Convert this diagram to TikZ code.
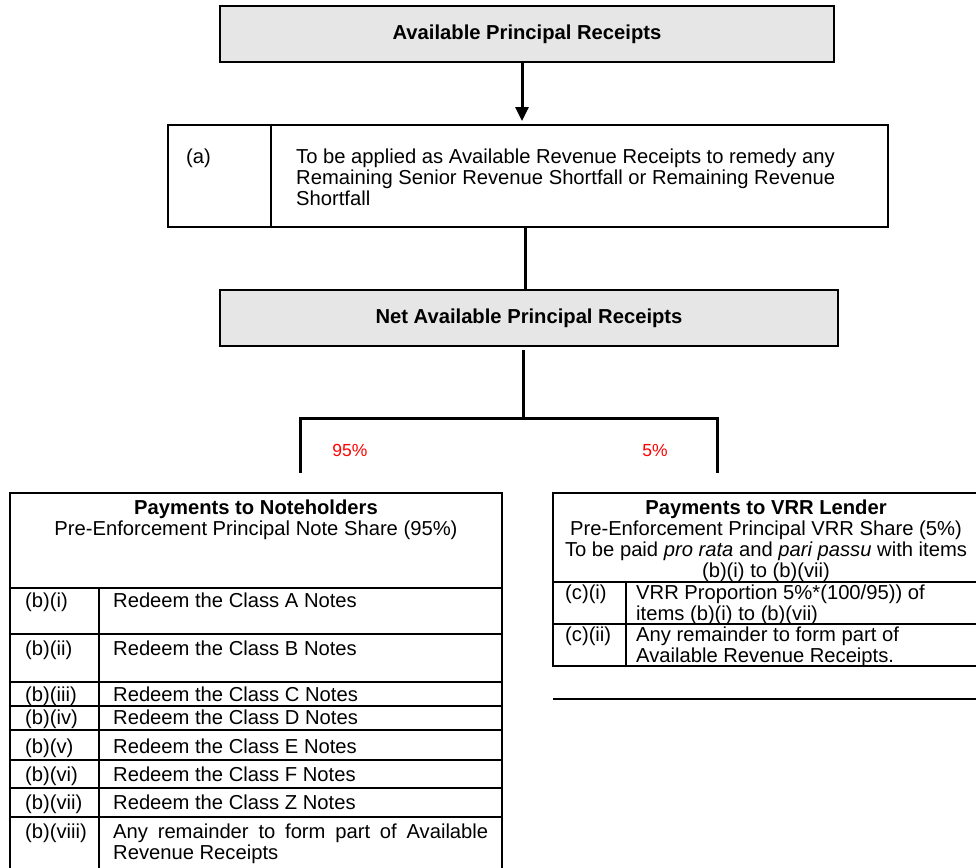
\documentclass[tikz,border=0pt]{standalone}
\usepackage{fontspec}
\setmainfont{Liberation Sans}
\usetikzlibrary{arrows.meta}
\definecolor{boxgray}{HTML}{E7E6E6}
\newcommand{\bodyfont}{\fontsize{20.2}{22}\selectfont}
\begin{document}
\begin{tikzpicture}[x=1pt,y=-1pt,
  txt/.style={inner sep=0pt, anchor=base west, font=\bodyfont},
  ctxt/.style={inner sep=0pt, anchor=base, font=\bodyfont},
  btxt/.style={inner sep=0pt, anchor=base, font=\bodyfont\bfseries},
  graybox/.style={draw, line width=2pt, fill=boxgray, inner sep=0pt, font=\bodyfont\bfseries},
  plainbox/.style={draw, line width=2pt, inner sep=0pt},
  wire/.style={line width=3pt},
  rule/.style={line width=1.8pt},
  pct/.style={text=red, inner sep=0pt, anchor=base, font=\fontsize{17.5}{20}\selectfont}]
\useasboundingbox (0,0) rectangle (976,867);
\fill[white] (0,0) rectangle (976,867);

% top box
\node[graybox, minimum width=614pt, minimum height=56pt] (apr) at (527,34) {Available Principal Receipts};
% (a) box
\node[plainbox, minimum width=720pt, minimum height=102pt] (abox) at (528,176) {};
\draw[rule] ([xshift=104pt]abox.north west) -- ([xshift=104pt]abox.south west);
\node[txt] (ta) at (186,163) {(a)};
\node[txt] (ta1) at (296,163) {To be applied as Available Revenue Receipts to remedy any};
\node[txt] (ta2) at (296,184) {Remaining Senior Revenue Shortfall or Remaining Revenue};
\node[txt] (ta3) at (296,205) {Shortfall};
% net box
\node[graybox, line width=1.6pt, minimum width=618pt, minimum height=56pt] (nap) at (529,318) {Net Available Principal Receipts};

% connectors
\coordinate (j1) at (522,0);
\coordinate (j2) at (525,0);
\coordinate (j3) at (523,0);
\coordinate (bl) at (300,418);
\coordinate (br) at (717,418);
\coordinate (dl) at (300,473);
\coordinate (dr) at (717,473);
\draw[wire, -{Triangle[length=14pt,width=13pt]}] (apr.south -| j1) -- ([yshift=3pt]abox.north -| j1);
\draw[wire] (abox.south -| j2) -- (nap.north -| j2);
\draw[wire] ([yshift=-3pt]nap.south -| j3) -- (j3 |- bl);
\draw[wire] (dl) -- (bl) -- (br) -- (dr);
\node[pct] (p95) at (350,456) {95\%};
\node[pct] (p5) at (655,456) {5\%};

% left table
\draw[rule] (10,875) -- (10,493) -- (502,493) -- (502,875);
\foreach \yy in {588,634,682,706,730,760,788,817}
  \draw[rule] (10,\yy) -- (502,\yy);
\draw[rule] (99,588) -- (99,875);
\node[btxt] (lh1) at (256,514) {Payments to Noteholders};
\node[ctxt] (lh2) at (256,535) {Pre-Enforcement Principal Note Share (95\%)};
\node[txt] (b1l) at (25,607) {(b)(i)};
\node[txt] (b1t) at (113,607) {Redeem the Class A Notes};
\node[txt] (b2l) at (25,655) {(b)(ii)};
\node[txt] (b2t) at (113,655) {Redeem the Class B Notes};
\node[txt] (b3l) at (25,701) {(b)(iii)};
\node[txt] (b3t) at (113,701) {Redeem the Class C Notes};
\node[txt] (b4l) at (25,724) {(b)(iv)};
\node[txt] (b4t) at (113,724) {Redeem the Class D Notes};
\node[txt] (b5l) at (25,753) {(b)(v)};
\node[txt] (b5t) at (113,753) {Redeem the Class E Notes};
\node[txt] (b6l) at (25,781) {(b)(vi)};
\node[txt] (b6t) at (113,781) {Redeem the Class F Notes};
\node[txt] (b7l) at (25,809) {(b)(vii)};
\node[txt] (b7t) at (113,809) {Redeem the Class Z Notes};
\node[txt] (b8l) at (25,838) {(b)(viii)};
\node[txt] (b8t) at (113,838) {\makebox[375pt][s]{Any remainder to form part of Available}};
\node[txt] (b8t2) at (113,859) {Revenue Receipts};

% right table
\draw[rule] (982,493) -- (553,493) -- (553,666) -- (982,666);
\draw[rule] (553,582) -- (982,582);
\draw[rule] (553,624) -- (982,624);
\draw[rule] (626,582) -- (626,666);
\draw[line width=1.4pt] (553,699) -- (982,699);
\node[btxt] (rh1) at (766,514) {Payments to VRR Lender};
\node[ctxt] (rh2) at (766,535) {Pre-Enforcement Principal VRR Share (5\%)};
\node[ctxt] (rh3) at (766,556) {To be paid \textit{pro rata} and \textit{pari passu} with items};
\node[ctxt] (rh4) at (766,577) {(b)(i) to (b)(vii)};
\node[txt] (c1l) at (565,599) {(c)(i)};
\node[txt] (c1t) at (636,599) {VRR Proportion 5\%*(100/95)) of};
\node[txt] (c1t2) at (636,620) {items (b)(i) to (b)(vii)};
\node[txt] (c2l) at (565,641) {(c)(ii)};
\node[txt] (c2t) at (636,641) {Any remainder to form part of};
\node[txt] (c2t2) at (636,662) {Available Revenue Receipts.};
\end{tikzpicture}
\end{document}
